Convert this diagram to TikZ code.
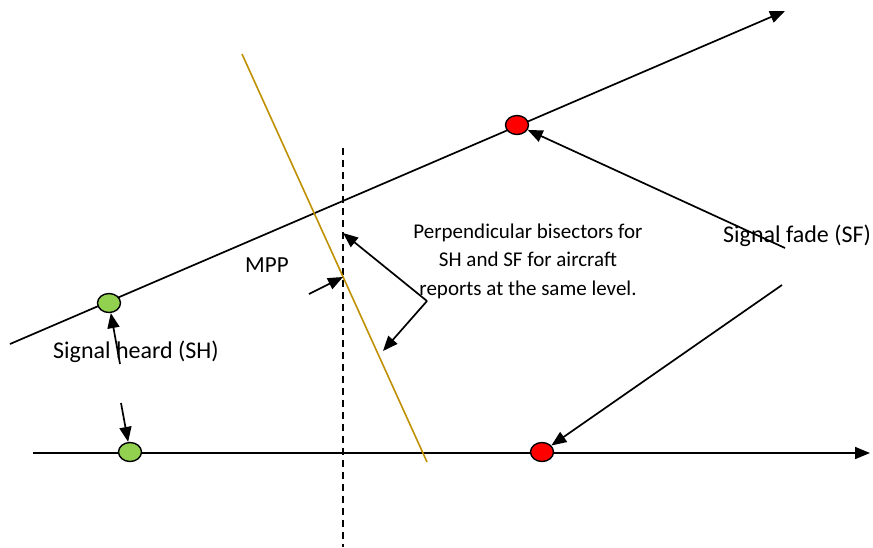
\documentclass[tikz,border=0pt]{standalone}
\usepackage{fontspec}
\setmainfont{Carlito}
\usetikzlibrary{arrows.meta,shapes.geometric}
\definecolor{bisect}{RGB}{191,144,0}
\definecolor{shgreen}{RGB}{146,208,80}
\begin{document}
\begin{tikzpicture}[x=1pt,y=-1pt,
  arr/.style={line width=1.7pt,-{Triangle[length=15pt,width=12pt]}},
  dot/.style={ellipse,draw,line width=1.4pt,minimum width=23pt,minimum height=19pt,inner sep=0pt},
  lbl/.style={font=\fontsize{24}{28}\selectfont,inner sep=0pt},
  blk/.style={font=\fontsize{21}{28.5}\selectfont,inner sep=0pt}]
\useasboundingbox (0,0) rectangle (873,547);
% main lines
\coordinate (ua) at (10,344);
\coordinate (ub) at (785,11);
\coordinate (la) at (33,453);
\coordinate (lb) at (870,453);
\draw[arr] (ua) -- (ub);
\draw[arr] (la) -- (lb);
% dashed vertical
\coordinate (da) at (343,148);
\coordinate (db) at (343,547);
\draw[line width=1.6pt,dash pattern=on 7pt off 5pt] (da) -- (db);
% bisector
\coordinate (ba) at (242,54);
\coordinate (bb) at (427,462);
\draw[bisect,line width=1.6pt] (ba) -- (bb);
% dots
\node[dot,fill=shgreen] (sh1) at (109,303) {};
\node[dot,fill=red] (sf1) at (517,125) {};
\node[dot,fill=shgreen] (sh2) at (130,452) {};
\node[dot,fill=red] (sf2) at (542,452) {};
% labels
\node[lbl,anchor=base west] (sf) at (723,242) {Signal fade (SF)};
\node[lbl,anchor=base west,font=\fontsize{23}{28}\selectfont] (mpp) at (245,272) {MPP};
\node[lbl,anchor=base west] (sh) at (53,358) {Signal heard (SH)};
\node[blk,anchor=base,align=center] (txt) at (528,295) {Perpendicular bisectors for\\SH and SF for aircraft\\reports at the same level.};
% arrows
\coordinate (sfa) at (785,248);
\coordinate (sfb) at (782,285);
\draw[arr] (sfa) -- (sf1);
\draw[arr] (sfb) -- (sf2);
\coordinate (sha) at (120,364);
\coordinate (shb) at (121,403);
\draw[arr] (sha) -- (sh1);
\draw[arr] (shb) -- (sh2);
\coordinate (mppa) at (309,294);
\coordinate (mppb) at (343,277);
\draw[arr] (mppa) -- (mppb);
\coordinate (corner) at (427,301);
\coordinate (bt1) at (343,233);
\coordinate (bt2) at (383,351);
\draw[arr] (corner) -- (bt1);
\draw[arr] (corner) -- (bt2);
\end{tikzpicture}
\end{document}
